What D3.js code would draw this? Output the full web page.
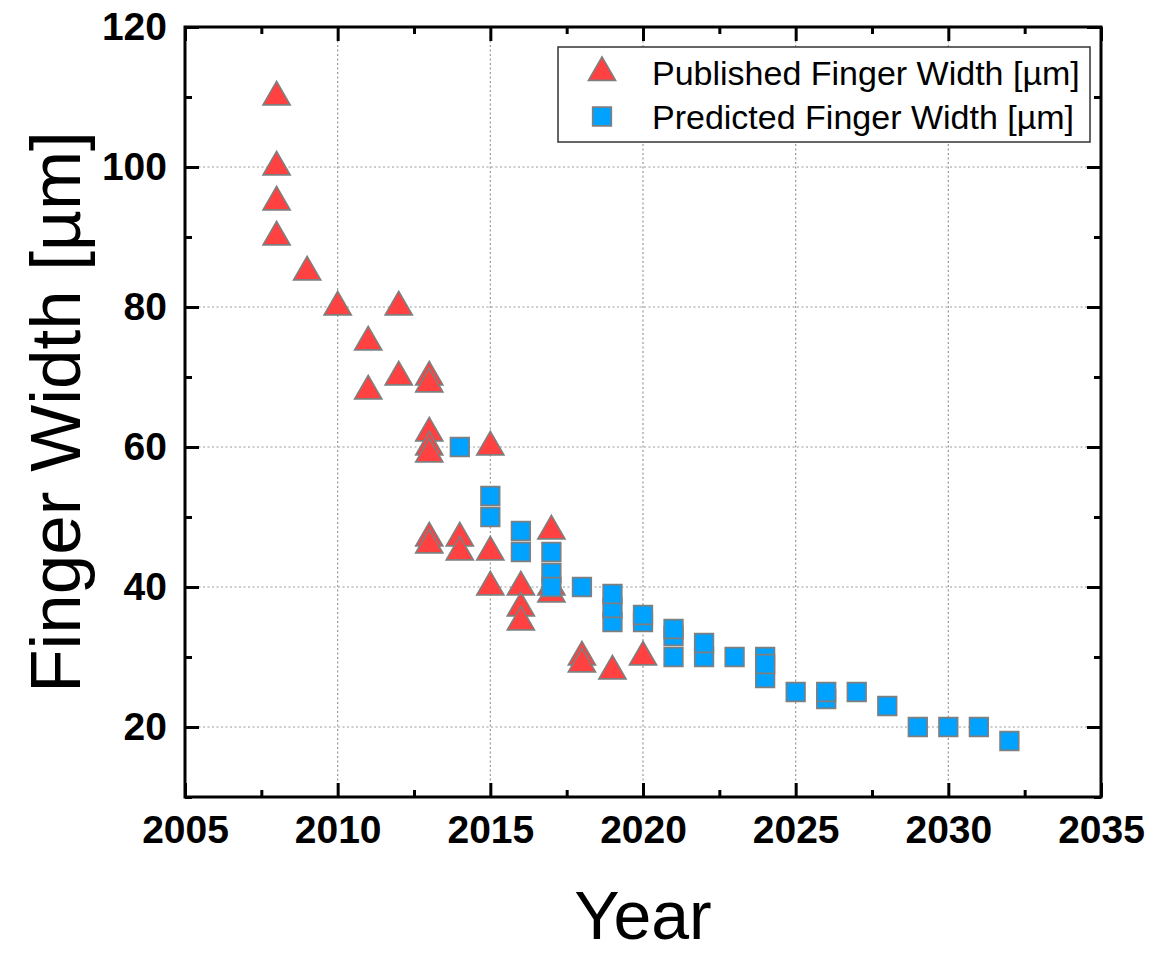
<!DOCTYPE html>
<html>
<head>
	<title>Finger width over years</title>
	<script src="https://cdnjs.cloudflare.com/ajax/libs/d3/7.8.5/d3.min.js" charset="utf-8"></script>
	<style>
		body { margin: 0; background: white; }
		text { font-family: Arial, "Liberation Sans", sans-serif; }
		.tick text { font-size: 39px; font-weight: bold; fill: black; }
		.tick line { stroke: black; stroke-width: 3; }
		.grid line { stroke: #999; stroke-width: 1.2; stroke-dasharray: 2,2.5; }
	</style>
</head>
<body>

	<svg id="main" width="1174" height="953"></svg>

	<script>

		// published widths (triangles)
		var publishedYear  = [2008, 2008, 2008, 2008, 2009, 2010, 2011, 2011, 2012, 2012,
		                      2013, 2013, 2013, 2013, 2013, 2013, 2013, 2014, 2014,
		                      2015, 2015, 2015, 2016, 2016, 2016, 2017, 2017, 2017,
		                      2018, 2018, 2019, 2020];
		var publishedWidth = [110, 100, 95, 90, 85, 80, 75, 68, 80, 70,
		                      70, 69, 62, 60, 59, 47, 46, 47, 45,
		                      60, 45, 40, 40, 37, 35, 48, 40, 39,
		                      30, 29, 28, 30];

		// predicted widths (squares)
		var predictedYear  = [2014, 2015, 2015, 2016, 2016, 2017, 2017, 2017, 2018,
		                      2019, 2019, 2019, 2020, 2020, 2021, 2021, 2021, 2022, 2022,
		                      2023, 2024, 2024, 2024, 2025, 2026, 2026, 2027, 2028,
		                      2029, 2030, 2031, 2032];
		var predictedWidth = [60, 53, 50, 48, 45, 45, 42, 40, 40,
		                      35, 37, 39, 35, 36, 30, 33, 34, 30, 32,
		                      30, 30, 27, 29, 25, 24, 25, 25, 23,
		                      20, 20, 20, 18];

		var xTicks = [2005, 2010, 2015, 2020, 2025, 2030, 2035];
		var xMinor = [2007.5, 2012.5, 2017.5, 2022.5, 2027.5, 2032.5];
		var yTicks = [20, 40, 60, 80, 100, 120];
		var yMinor = [10, 30, 50, 70, 90, 110];

		var seriesNames = ['Published Finger Width [µm]', 'Predicted Finger Width [µm]'];

		var LEFT = 185, RIGHT = 1101, TOP = 27, BOTTOM = 797;
		var RED = '#FF4141', BLUE = '#00A2FF', EDGE = '#7f7f7f';

		var svg = d3.select('#main');

		var x = d3.scaleLinear().domain([2005, 2035]).range([LEFT, RIGHT]);
		var y = d3.scaleLinear().domain([10, 120]).range([BOTTOM, TOP]);

		// grid
		var grid = svg.append('g').attr('class', 'grid');
		grid.selectAll('.gx').data(xTicks.slice(1, -1)).enter().append('line')
			.attr('x1', function(d) { return x(d); }).attr('x2', function(d) { return x(d); })
			.attr('y1', TOP).attr('y2', BOTTOM);
		grid.selectAll('.gy').data(yTicks.slice(0, -1)).enter().append('line')
			.attr('y1', function(d) { return y(d); }).attr('y2', function(d) { return y(d); })
			.attr('x1', LEFT).attr('x2', RIGHT);

		// axes, ticks pointing inward
		function addAxis(axis, tx, ty) {
			var g = svg.append('g').attr('transform', 'translate(' + tx + ',' + ty + ')').call(axis);
			g.select('.domain').remove();
			return g;
		}

		addAxis(d3.axisBottom(x).tickValues(xTicks).tickSize(-14).tickSizeOuter(0).tickPadding(18).tickFormat(d3.format('d')), 0, BOTTOM);
		addAxis(d3.axisBottom(x).tickValues(xMinor).tickSize(-7).tickFormat(''), 0, BOTTOM);
		addAxis(d3.axisTop(x).tickValues(xTicks).tickSize(-14).tickFormat(''), 0, TOP);
		addAxis(d3.axisTop(x).tickValues(xMinor).tickSize(-7).tickFormat(''), 0, TOP);

		addAxis(d3.axisLeft(y).tickValues(yTicks).tickSize(-14).tickPadding(18), LEFT, 0);
		addAxis(d3.axisLeft(y).tickValues(yMinor).tickSize(-7).tickFormat(''), LEFT, 0);
		addAxis(d3.axisRight(y).tickValues(yTicks).tickSize(-14).tickFormat(''), RIGHT, 0);
		addAxis(d3.axisRight(y).tickValues(yMinor).tickSize(-7).tickFormat(''), RIGHT, 0);

		// frame
		svg.append('rect')
			.attr('x', LEFT).attr('y', TOP)
			.attr('width', RIGHT - LEFT).attr('height', BOTTOM - TOP)
			.attr('fill', 'none').attr('stroke', 'black').attr('stroke-width', 3);

		// axis titles
		svg.append('text')
			.attr('x', (LEFT + RIGHT) / 2).attr('y', 939)
			.attr('text-anchor', 'middle')
			.style('font-size', '68px')
			.text('Year');

		svg.append('text')
			.attr('transform', 'translate(80,' + ((TOP + BOTTOM) / 2) + ') rotate(-90)')
			.attr('text-anchor', 'middle')
			.style('font-size', '71px')
			.text('Finger Width [µm]');

		// markers
		var tri = d3.symbol().type(d3.symbolTriangle).size(320);
		var sq = d3.symbol().type(d3.symbolSquare).size(350);

		svg.append('g').selectAll('path').data(publishedWidth).enter().append('path')
			.attr('d', tri)
			.attr('transform', function(d, i) { return 'translate(' + x(publishedYear[i]) + ',' + y(d) + ')'; })
			.attr('fill', RED).attr('stroke', EDGE).attr('stroke-width', 1.6);

		svg.append('g').selectAll('path').data(predictedWidth).enter().append('path')
			.attr('d', sq)
			.attr('transform', function(d, i) { return 'translate(' + x(predictedYear[i]) + ',' + y(d) + ')'; })
			.attr('fill', BLUE).attr('stroke', EDGE).attr('stroke-width', 1.6);

		// legend
		var legend = svg.append('g');
		legend.append('rect')
			.attr('x', 558).attr('y', 47).attr('width', 532).attr('height', 95)
			.attr('fill', 'white').attr('stroke', '#333').attr('stroke-width', 1.5);

		legend.append('path').attr('d', tri)
			.attr('transform', 'translate(602,72.5)')
			.attr('fill', RED).attr('stroke', EDGE).attr('stroke-width', 1.6);
		legend.append('path').attr('d', sq)
			.attr('transform', 'translate(602,116.5)')
			.attr('fill', BLUE).attr('stroke', EDGE).attr('stroke-width', 1.6);

		legend.selectAll('.lt').data(seriesNames).enter().append('text')
			.attr('x', 652)
			.attr('y', function(d, i) { return 85 + i * 44; })
			.style('font-size', '34px')
			.text(function(d) { return d; });

	</script>
</body>
</html>
